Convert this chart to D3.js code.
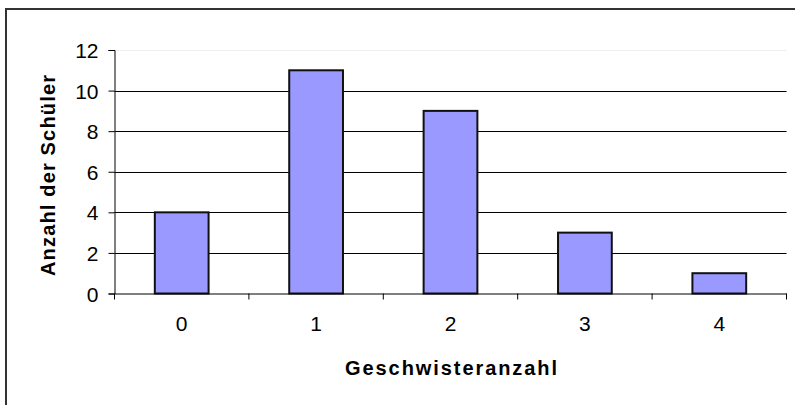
<html>
<head>
    <script src="https://d3js.org/d3.v7.min.js"></script>
    <style>
        body { margin: 0; background: #fff; }
        svg text { font-family: "Liberation Sans", Arial, sans-serif; fill: #000; }
    </style>
</head>
<body>
    <svg id="svg" width="795" height="405"></svg>
    <script>
        // data
        const categories = ['0', '1', '2', '3', '4']
        const counts = [4, 11, 9, 3, 1]
        const yTicks = [0, 2, 4, 6, 8, 10, 12]
        const xTitle = 'Geschwisteranzahl'
        const yTitle = 'Anzahl der Schüler'

        const plotLeft = 114.5, plotRight = 786.5, plotTop = 50, plotBottom = 293.5

        const svg = d3.select('#svg')

        // outer frame (runs off the picture at right and bottom)
        svg.append('rect')
            .attr('x', 6).attr('y', 9)
            .attr('width', 820).attr('height', 420)
            .attr('fill', 'none')
            .attr('stroke', '#333')
            .attr('stroke-width', 2)

        const x = d3.scaleBand().domain(categories).range([plotLeft, plotRight]).paddingInner(0).paddingOuter(0)
        const y = d3.scaleLinear().domain([0, 12]).range([plotBottom, plotTop])

        // gridlines
        svg.append('g')
            .selectAll('line')
            .data(yTicks.filter(d => d > 0))
            .enter()
            .append('line')
            .attr('x1', plotLeft).attr('x2', plotRight)
            .attr('y1', d => Math.round(y(d)) + 0.5)
            .attr('y2', d => Math.round(y(d)) + 0.5)
            .attr('stroke', d => d === 12 ? '#eee' : '#000')
            .attr('stroke-width', 1)

        // bars
        const bw = x.bandwidth() * 0.4
        svg.append('g')
            .selectAll('rect')
            .data(counts)
            .enter()
            .append('rect')
            .attr('x', (d, i) => x(categories[i]) + (x.bandwidth() - bw) / 2)
            .attr('y', d => y(d))
            .attr('width', bw)
            .attr('height', d => y(0) - y(d))
            .attr('fill', '#9999ff')
            .attr('stroke', '#111')
            .attr('stroke-width', 2)

        // y axis
        const yAxis = svg.append('g')
            .attr('transform', `translate(${plotLeft},0)`)
            .call(d3.axisLeft(y).tickValues(yTicks).tickSize(6).tickPadding(10))
        yAxis.selectAll('text').style('font-size', '21px').attr('dy', '0.36em')

        // x axis, ticks on category boundaries
        const xAxis = svg.append('g')
            .attr('transform', `translate(0,${plotBottom})`)
            .call(d3.axisBottom(x).tickSize(0).tickPadding(23))
        xAxis.selectAll('text').style('font-size', '21px')
        xAxis.selectAll('.bound')
            .data(d3.range(categories.length + 1))
            .enter()
            .append('line')
            .attr('class', 'bound')
            .attr('x1', i => plotLeft + i * x.step())
            .attr('x2', i => plotLeft + i * x.step())
            .attr('y1', 0).attr('y2', 6)
            .attr('stroke', '#000')

        svg.selectAll('.domain').attr('stroke', '#000')

        // titles (Excel spreads the letters a bit)
        svg.append('text')
            .attr('x', 345)
            .attr('y', 375)
            .attr('textLength', 212)
            .attr('lengthAdjust', 'spacing')
            .style('font-size', '20px')
            .style('font-weight', 'bold')
            .text(xTitle)

        svg.append('text')
            .attr('transform', 'translate(55,276) rotate(-90)')
            .attr('textLength', 201)
            .attr('lengthAdjust', 'spacing')
            .style('font-size', '20px')
            .style('font-weight', 'bold')
            .text(yTitle)
    </script>
</body>
</html>
